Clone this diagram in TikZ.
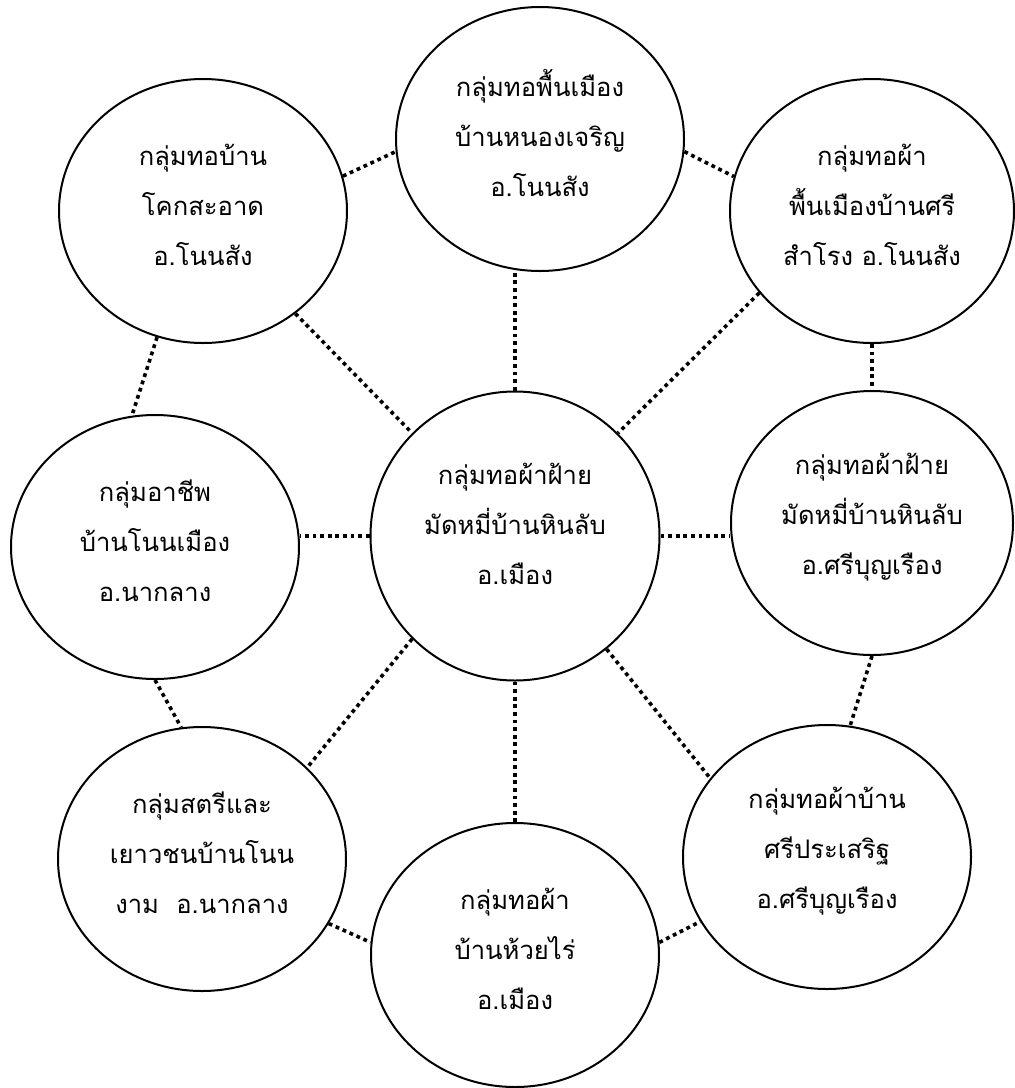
\documentclass[tikz,border=0pt]{standalone}
\usepackage{fontspec}
\newfontfamily\thaifont[Script=Thai]{Loma}
\usetikzlibrary{shapes.geometric}
\tikzset{
  grp/.style={draw=black, line width=1pt, ellipse, inner sep=0pt,
    minimum width=144pt, minimum height=132pt},
  ctr/.style={grp, minimum width=144.5pt, minimum height=144.5pt},
  txt/.style={align=center, inner sep=0pt, text=black,
    font={\thaifont\fontsize{12.8pt}{25pt}\selectfont}},
  dotline/.style={line width=1.8pt, dash pattern=on 1.9pt off 1.9pt}
}
\begin{document}
\begin{tikzpicture}[x=0.5pt, y=-0.5pt]
\useasboundingbox[fill=white] (0,0) rectangle (1014,1088);
% ellipses
\node[grp] (tl) at (203,211) {};
\node[grp] (t)  at (540,139) {};
\node[grp, minimum width=142pt] (tr) at (872,211) {};
\node[grp] (l)  at (155,547) {};
\node[ctr] (c)  at (515,536) {};
\node[grp, minimum width=141pt] (r)  at (872,523) {};
\node[grp] (bl) at (202,859) {};
\node[grp] (b)  at (515,955) {};
\node[grp] (br) at (827,857) {};
% texts
\node[txt] (tlt) at ([yshift=3pt]tl.center) {กลุ่มทอบ้าน\\โคกสะอาด\\อ.โนนสัง};
\node[txt] (tt)  at ([yshift=3pt]t.center) {กลุ่มทอพื้นเมือง\\บ้านหนองเจริญ\\อ.โนนสัง};
\node[txt] (trt) at ([yshift=3pt]tr.center) {กลุ่มทอผ้า\\พื้นเมืองบ้านศรี\\สำโรง อ.โนนสัง};
\node[txt] (lt)  at ([yshift=3pt]l.center) {กลุ่มอาชีพ\\บ้านโนนเมือง\\อ.นากลาง};
\node[txt] (ct)  at ([yshift=6pt]c.center) {กลุ่มทอผ้าฝ้าย\\มัดหมี่บ้านหินลับ\\อ.เมือง};
\node[txt] (rt)  at ([yshift=3pt]r.center) {กลุ่มทอผ้าฝ้าย\\มัดหมี่บ้านหินลับ\\อ.ศรีบุญเรือง};
\node[txt] (blt) at ([yshift=3pt]bl.center) {กลุ่มสตรีและ\\เยาวชนบ้านโนน\\งาม\ \ อ.นากลาง};
\node[txt] (bt)  at ([yshift=3pt]b.center) {กลุ่มทอผ้า\\บ้านห้วยไร่\\อ.เมือง};
\node[txt] (brt) at ([yshift=3pt]br.center) {กลุ่มทอผ้าบ้าน\\ศรีประเสริฐ\\อ.ศรีบุญเรือง};
% connectors
\draw[dotline] (tl.14) -- (t.185);
\draw[dotline] (t.-5) -- (tr.166);
\draw[dotline] (tl.-48) -- (c.135);
\draw[dotline] (c.north) -- (c.north |- t.south);
\draw[dotline] (tr.216) -- (c.45);
\draw[dotline] (tr.south) -- (r.north);
\draw[dotline] (tl.250) -- (l.100);
\draw[dotline] (c.west) -- (c.west -| l.east);
\draw[dotline] (c.east) -- (c.east -| r.west);
\draw[dotline] (c.225) -- (bl.41);
\draw[dotline] (l.south) -- (bl.99);
\draw[dotline] (c.south) -- (c.south |- b.north);
\draw[dotline] (c.309) -- (br.146);
\draw[dotline] (r.south) -- (br.80);
\draw[dotline] (bl.333) -- (b.175);
\draw[dotline] (b.5) -- (br.207);
\end{tikzpicture}
\end{document}
